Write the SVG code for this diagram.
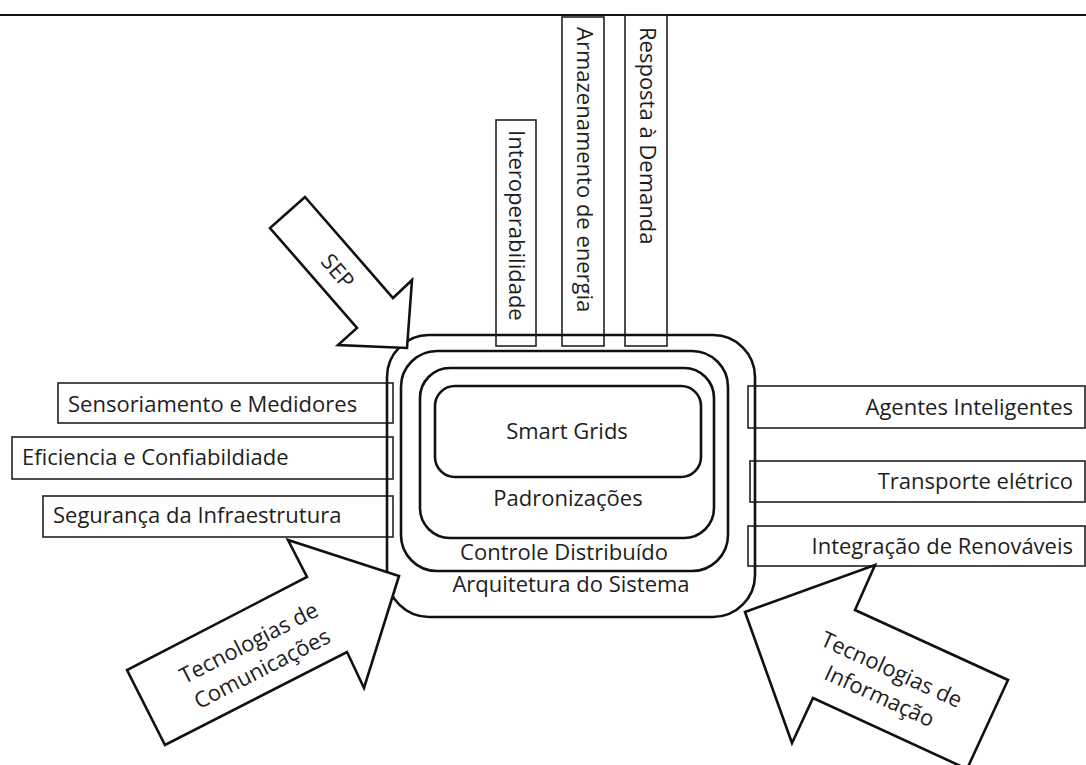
<svg xmlns="http://www.w3.org/2000/svg" width="1086" height="765" viewBox="0 0 1086 765">
  <style>
    text { font-family: "Open Sans", "Noto Sans", "DejaVu Sans", sans-serif; font-size: 22px; fill: #1e1e1e; }
    .box { fill: none; stroke: #222; stroke-width: 1.6; }
    .ring { fill: none; stroke: #111; stroke-width: 2.6; }
    .arrow { fill: #fff; stroke: #111; stroke-width: 2.6; stroke-linejoin: miter; }
    .mid { text-anchor: middle; }
    .end { text-anchor: end; }
  </style>

  <!-- header rule -->
  <line x1="0" y1="15" x2="1086" y2="15" stroke="#111" stroke-width="2"/>

  <!-- vertical topic tabs above the core -->
  <g id="interoperabilidade">
    <rect class="box" x="496" y="120" width="40" height="226"/>
    <text transform="translate(509,130) rotate(90)">Interoperabilidade</text>
  </g>
  <g id="armazenamento">
    <rect class="box" x="562" y="17" width="42" height="329"/>
    <text transform="translate(577,27) rotate(90)">Armazenamento de energia</text>
  </g>
  <g id="resposta-demanda">
    <rect class="box" x="625" y="15" width="42" height="331"/>
    <text transform="translate(640,27) rotate(90)">Resposta à Demanda</text>
  </g>

  <!-- left side tabs -->
  <g id="sensoriamento">
    <rect class="box" x="58" y="383" width="335" height="40"/>
    <text x="68" y="412">Sensoriamento e Medidores</text>
  </g>
  <g id="eficiencia">
    <rect class="box" x="12" y="437" width="381" height="42"/>
    <text x="22" y="465">Eficiencia e Confiabildiade</text>
  </g>
  <g id="seguranca">
    <rect class="box" x="43" y="496" width="350" height="41"/>
    <text x="53" y="523">Segurança da Infraestrutura</text>
  </g>

  <!-- right side tabs -->
  <g id="agentes">
    <rect class="box" x="748" y="386" width="337" height="42"/>
    <text class="end" x="1073" y="415">Agentes Inteligentes</text>
  </g>
  <g id="transporte">
    <rect class="box" x="750" y="461" width="335" height="41"/>
    <text class="end" x="1073" y="489">Transporte elétrico</text>
  </g>
  <g id="renovaveis">
    <rect class="box" x="748" y="526" width="337" height="40"/>
    <text class="end" x="1073" y="554">Integração de Renováveis</text>
  </g>

  <!-- nested core layers -->
  <g id="arquitetura">
    <rect class="ring" x="387" y="335" width="368" height="282" rx="42" ry="42"/>
    <text class="mid" x="571" y="592">Arquitetura do Sistema</text>
  </g>
  <g id="controle">
    <rect class="ring" x="401" y="351" width="327" height="220" rx="36" ry="36"/>
    <text class="mid" x="564" y="560">Controle Distribuído</text>
  </g>
  <g id="padronizacoes">
    <rect class="ring" x="420" y="368" width="294" height="170" rx="30" ry="30"/>
    <text class="mid" x="568" y="506">Padronizações</text>
  </g>
  <g id="smart-grids">
    <rect class="ring" x="435" y="386" width="266" height="91" rx="20" ry="20"/>
    <text class="mid" x="567" y="439">Smart Grids</text>
  </g>

  <!-- inbound block arrows -->
  <g id="arrows">
    <g id="sep">
      <polygon class="arrow" points="305,197 270,228 357,328 338,345 407,348 412,280 393,298"/>
      <text class="mid" transform="translate(338,271) rotate(49)" y="8">SEP</text>
    </g>
    <g id="tec-comunicacoes">
      <polygon class="arrow" points="399,576 288,540 307,577 127,670 165,745 347,652 364,688"/>
      <g transform="translate(255,655) rotate(-27)">
        <text class="mid" y="-6">Tecnologias de</text>
        <text class="mid" y="23">Comunicações</text>
      </g>
    </g>
    <g id="tec-informacao">
      <polygon class="arrow" points="745,612 875,565 855,610 1008,680 967,769 813,698 792,743"/>
      <g transform="translate(886,682) rotate(24.6)">
        <text class="mid" y="-6">Tecnologias de</text>
        <text class="mid" y="23">Informação</text>
      </g>
    </g>
  </g>
</svg>
